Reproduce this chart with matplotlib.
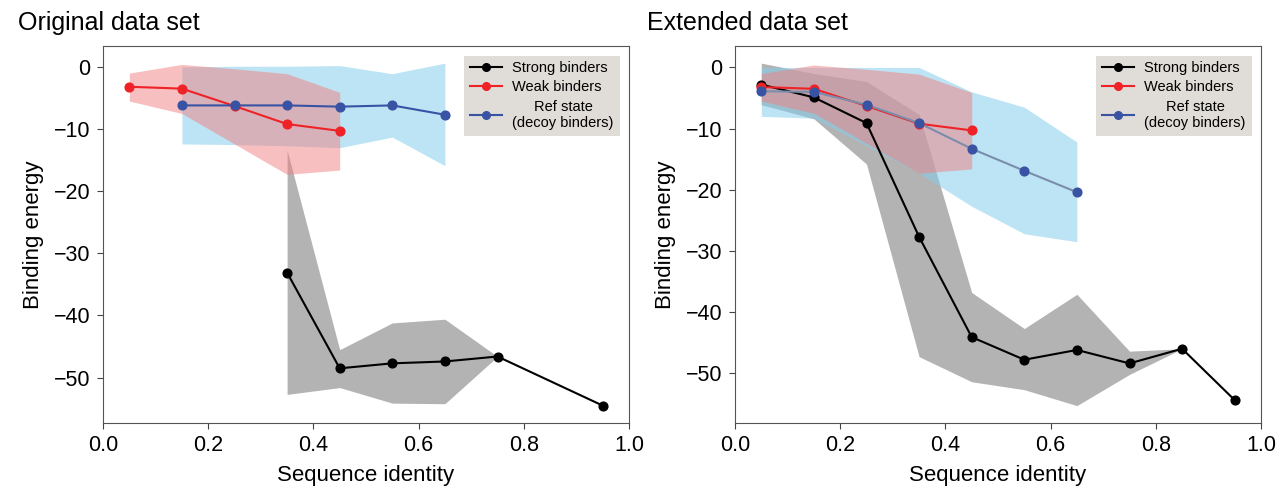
import numpy as np
import matplotlib
matplotlib.use("Agg")
import matplotlib.pyplot as plt

plt.rcParams['font.family'] = ['Liberation Sans', 'DejaVu Sans']

# ---- Original data set ----
orig_strong_x = [0.35, 0.45, 0.55, 0.65, 0.75, 0.95]
orig_strong_y = [-33.1, -48.5, -47.7, -47.4, -46.6, -54.5]
orig_strong_lo = [-52.7, -51.6, -54.1, -54.2, -46.6, -54.5]
orig_strong_hi = [-13.4, -45.5, -41.2, -40.6, -46.6, -54.5]

weak_x = [0.05, 0.15, 0.25, 0.35, 0.45]
weak_y = [-3.2, -3.5, -6.3, -9.2, -10.3]
weak_lo = [-5.5, -7.5, -12.4, -17.3, -16.6]
weak_hi = [-1.0, 0.4, -0.3, -1.1, -4.1]

orig_ref_x = [0.15, 0.25, 0.35, 0.45, 0.55, 0.65]
orig_ref_y = [-6.2, -6.2, -6.2, -6.4, -6.2, -7.7]
orig_ref_lo = [-12.4, -12.5, -12.7, -13.0, -11.3, -15.9]
orig_ref_hi = [0.0, 0.1, 0.1, 0.2, -1.1, 0.6]

# ---- Extended data set ----
ext_strong_x = [0.05, 0.15, 0.25, 0.35, 0.45, 0.55, 0.65, 0.75, 0.85, 0.95]
ext_strong_y = [-2.8, -4.9, -9.1, -27.7, -44.1, -47.8, -46.2, -48.4, -46.0, -54.4]
ext_strong_lo = [-6.1, -8.4, -15.8, -47.3, -51.4, -52.7, -55.3, -50.2, -46.0, -54.4]
ext_strong_hi = [0.7, -1.0, -2.3, -7.7, -36.8, -42.7, -37.1, -46.4, -46.0, -54.4]

ext_ref_x = [0.05, 0.15, 0.25, 0.35, 0.45, 0.55, 0.65]
ext_ref_y = [-3.9, -4.0, -6.1, -9.1, -13.3, -16.9, -20.4]
ext_ref_lo = [-8.0, -8.3, -12.8, -17.3, -22.7, -27.2, -28.5]
ext_ref_hi = [0.0, 0.0, 0.0, 0.0, -4.0, -6.5, -12.2]

titles = ["Original data set", "Extended data set"]
legend_labels = ['Strong binders', 'Weak binders', 'Ref state\n(decoy binders)']

BLACK = '#000000'
RED = '#ee2227'
BLUE = '#3953a4'


def draw_panel(ax, strong, ref, ref_line_color):
    sx, sy, slo, shi = strong
    rx, ry, rlo, rhi = ref
    ax.fill_between(sx, slo, shi, color='#b3b3b3', lw=0, zorder=1)
    ax.fill_between(rx, rlo, rhi, color='#87ceeb', alpha=0.55, lw=0, zorder=1)
    ax.fill_between(weak_x, weak_lo, weak_hi, color='#f08080', alpha=0.5,
                    lw=0, zorder=1)
    ax.plot(sx, sy, '-', color=BLACK, lw=1.5, zorder=3)
    ax.plot(sx, sy, 'o', color=BLACK, ms=6.3, zorder=4)
    ax.plot(weak_x, weak_y, '-', color=RED, lw=1.5, zorder=3)
    ax.plot(weak_x, weak_y, 'o', color=RED, ms=6.3, zorder=4)
    ax.plot(rx, ry, '-', color=ref_line_color, lw=1.5, zorder=3)
    ax.plot(rx, ry, 'o', color=BLUE, ms=6.3, zorder=4)

    handles = [
        plt.Line2D([], [], color=BLACK, marker='o', ms=5.5, lw=1.5),
        plt.Line2D([], [], color=RED, marker='o', ms=5.5, lw=1.5),
        plt.Line2D([], [], color=BLUE, marker='o', ms=5.5, lw=1.5),
    ]
    leg = ax.legend(handles, legend_labels,
                    loc='upper right', fontsize=10.5, frameon=True,
                    facecolor='#e0dcd7', edgecolor='none', framealpha=1,
                    fancybox=False, borderaxespad=0.65, borderpad=0.4,
                    handlelength=2.2, handletextpad=0.7, labelspacing=0.35)
    for t in leg.get_texts():
        t.set_multialignment('center')

    ax.set_xlim(0, 1)
    ax.set_xlabel('Sequence identity', fontsize=16, labelpad=6)
    ax.set_ylabel('Binding energy', fontsize=16, labelpad=7)
    ax.tick_params(labelsize=15.5, direction='out', length=4, pad=5,
                   color='#444444')
    for s in ax.spines.values():
        s.set_color('#555555')


fig = plt.figure(figsize=(12.81, 4.86), dpi=100)
ax1 = fig.add_axes([103 / 1281, 0.1302, 526 / 1281, 0.7751])
ax2 = fig.add_axes([735 / 1281, 0.1302, 526 / 1281, 0.7751])

draw_panel(ax1, (orig_strong_x, orig_strong_y, orig_strong_lo, orig_strong_hi),
           (orig_ref_x, orig_ref_y, orig_ref_lo, orig_ref_hi), BLUE)
draw_panel(ax2, (ext_strong_x, ext_strong_y, ext_strong_lo, ext_strong_hi),
           (ext_ref_x, ext_ref_y, ext_ref_lo, ext_ref_hi), '#7b8dab')

fig.text(18 / 1281, 1 - 30 / 486, titles[0], fontsize=18, va='baseline')
fig.text(647 / 1281, 1 - 30 / 486, titles[1], fontsize=18, va='baseline')

fig.savefig('out.png', dpi=100)
